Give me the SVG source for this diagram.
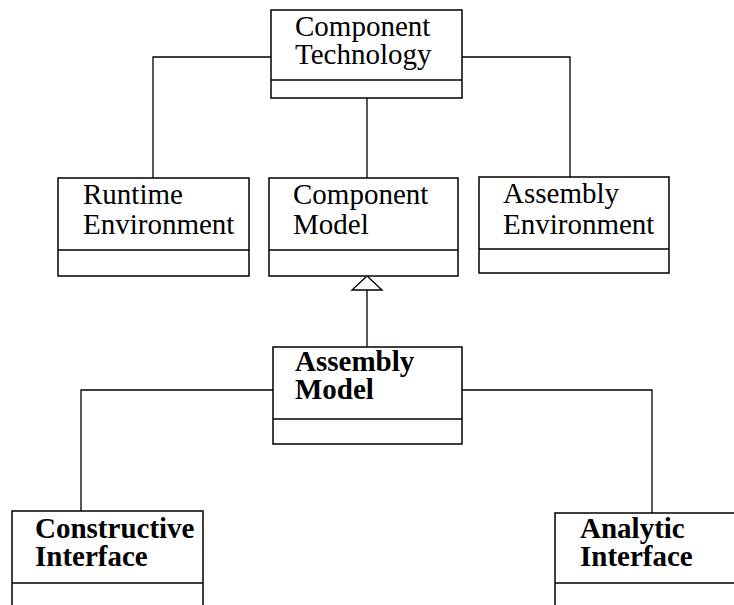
<svg xmlns="http://www.w3.org/2000/svg" width="734" height="605" viewBox="0 0 734 605">
<style>
.box{fill:#fff;stroke:#000;stroke-width:1.5}
.div{stroke:#000;stroke-width:1.5}
.t{font-family:"Liberation Serif","Times New Roman",serif;font-size:29px;fill:#000}
.b{font-weight:bold}
.c{fill:none;stroke:#000;stroke-width:1.3}
</style>
<rect width="734" height="605" fill="#fff"/>
<g id="connectors">
<polyline class="c" points="271,57 153,57 153,178"/>
<polyline class="c" points="462,57 570,57 570,177"/>
<line class="c" x1="367" y1="98" x2="367" y2="178"/>
<line class="c" x1="367" y1="290" x2="367" y2="347"/>
<polygon points="367,276 352,290 382,290" fill="#fff" stroke="#000" stroke-width="1.3"/>
<polyline class="c" points="273,390 81,390 81,511"/>
<polyline class="c" points="462,390 652,390 652,513"/>
</g>
<g id="component-technology">
<rect class="box" x="271" y="10" width="191" height="88"/>
<line class="div" x1="271" y1="80" x2="462" y2="80"/>
<text class="t" x="295" y="36">Component</text>
<text class="t" x="295" y="64">Technology</text>
</g>
<g id="runtime-environment">
<rect class="box" x="58" y="178" width="191" height="98"/>
<line class="div" x1="58" y1="250" x2="249" y2="250"/>
<text class="t" x="83" y="204">Runtime</text>
<text class="t" x="83" y="234">Environment</text>
</g>
<g id="component-model">
<rect class="box" x="269" y="178" width="189" height="98"/>
<line class="div" x1="269" y1="250" x2="458" y2="250"/>
<text class="t" x="293" y="204">Component</text>
<text class="t" x="293" y="234">Model</text>
</g>
<g id="assembly-environment">
<rect class="box" x="479" y="177" width="190" height="96"/>
<line class="div" x1="479" y1="249" x2="669" y2="249"/>
<text class="t" x="503" y="203">Assembly</text>
<text class="t" x="503" y="234">Environment</text>
</g>
<g id="assembly-model">
<rect class="box" x="273" y="347" width="189" height="97"/>
<line class="div" x1="273" y1="419" x2="462" y2="419"/>
<text class="t b" x="295" y="371">Assembly</text>
<text class="t b" x="295" y="399">Model</text>
</g>
<g id="constructive-interface">
<rect class="box" x="12" y="511" width="191" height="110"/>
<line class="div" x1="12" y1="583" x2="203" y2="583"/>
<text class="t b" x="35" y="538">Constructive</text>
<text class="t b" x="35" y="566">Interface</text>
</g>
<g id="analytic-interface">
<rect class="box" x="555" y="513" width="200" height="110"/>
<line class="div" x1="555" y1="583" x2="755" y2="583"/>
<text class="t b" x="580" y="538">Analytic</text>
<text class="t b" x="580" y="566">Interface</text>
</g>
</svg>
